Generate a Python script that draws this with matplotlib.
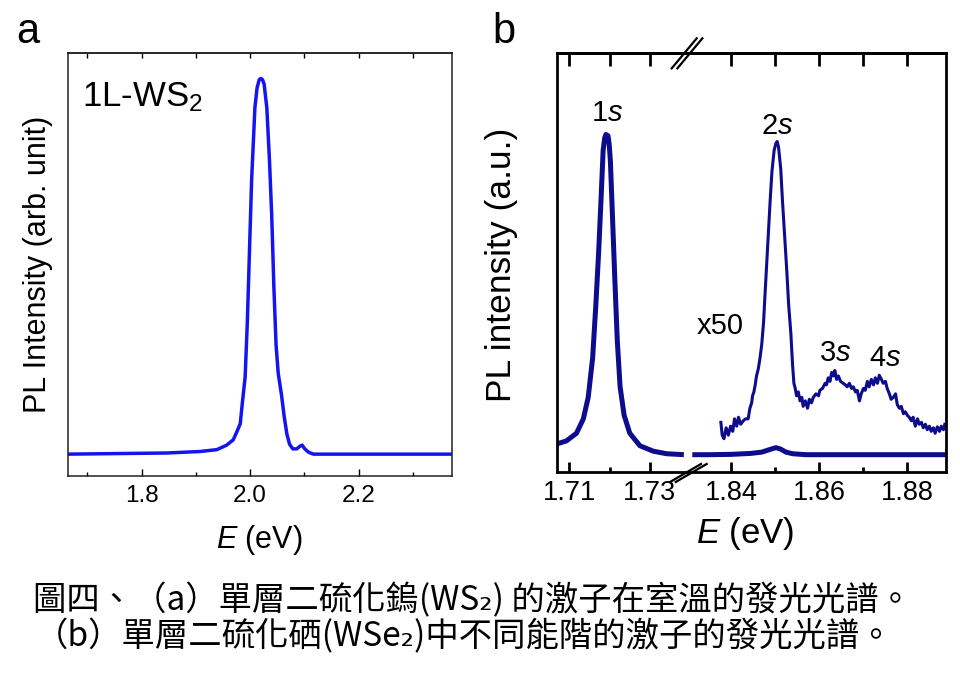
import matplotlib
matplotlib.use('Agg')
import matplotlib.pyplot as plt
from matplotlib.ticker import FixedLocator, NullFormatter

# --- panel a: 1L-WS2 PL spectrum (normalised) ---
ws2_e = [1.665, 1.785, 1.846, 1.908, 1.939, 1.957, 1.969, 1.975, 1.982, 1.986,
         1.991, 1.995, 1.999, 2.003, 2.009, 2.013, 2.017, 2.020, 2.023, 2.026,
         2.031, 2.036, 2.040, 2.044, 2.048, 2.052, 2.058, 2.063, 2.068, 2.073,
         2.079, 2.086, 2.092, 2.096, 2.101, 2.108, 2.117, 2.215, 2.372]
ws2_i = [0.0, 0.002, 0.003, 0.007, 0.012, 0.024, 0.038, 0.057, 0.081, 0.138,
         0.205, 0.349, 0.540, 0.731, 0.922, 0.975, 0.997, 1.0, 0.997, 0.985,
         0.922, 0.778, 0.635, 0.444, 0.291, 0.215, 0.158, 0.100, 0.053, 0.026,
         0.014, 0.014, 0.021, 0.024, 0.014, 0.005, 0.0, 0.0, 0.0]

# --- panel b: 1L-WSe2, main spectrum (low and high energy windows) ---
wse2_e_lo = [1.7070, 1.7093, 1.7118, 1.7135, 1.7147, 1.7158, 1.7166, 1.7173,
             1.7179, 1.7184, 1.7188, 1.7191, 1.7196, 1.7199, 1.7202, 1.7207,
             1.7213, 1.7219, 1.7226, 1.7236, 1.7250, 1.7275, 1.7308, 1.7341,
             1.7384]
wse2_i_lo = [0.034, 0.043, 0.067, 0.112, 0.179, 0.302, 0.469, 0.635,
             0.803, 0.950, 0.990, 1.0, 0.996, 0.970, 0.916, 0.749,
             0.547, 0.358, 0.212, 0.123, 0.067, 0.028, 0.011, 0.003,
             0.0]
wse2_e_hi = [1.8312, 1.8350, 1.8400, 1.8445, 1.8470, 1.8490, 1.8502, 1.8512,
             1.8525, 1.8540, 1.8570, 1.8700, 1.8888]
wse2_i_hi = [0.0, 0.0, 0.001, 0.004, 0.008, 0.017, 0.022, 0.018,
             0.008, 0.003, 0.0, 0.0, 0.0]

# x50 magnified trace
x50_e = [1.8377, 1.8380, 1.8384, 1.8389, 1.8394, 1.8399, 1.8404, 1.8408,
         1.8413, 1.8417, 1.8422, 1.8428, 1.8433, 1.8439, 1.8443, 1.8447,
         1.8449, 1.8452, 1.8455, 1.8458, 1.8462, 1.8466, 1.8470, 1.8474,
         1.8477, 1.8481, 1.8485, 1.8489, 1.8493, 1.8498, 1.8502, 1.8505,
         1.8508, 1.8513, 1.8517, 1.8522, 1.8527, 1.8531, 1.8536, 1.8540,
         1.8543, 1.8546, 1.8549, 1.8553, 1.8557, 1.8561, 1.8564, 1.8569,
         1.8574, 1.8578, 1.8583, 1.8587, 1.8593, 1.8599, 1.8602, 1.8608,
         1.8614, 1.8617, 1.8621, 1.8625, 1.8629, 1.8633, 1.8636, 1.8640,
         1.8644, 1.8649, 1.8655, 1.8660, 1.8664, 1.8669, 1.8674, 1.8678,
         1.8683, 1.8687, 1.8692, 1.8696, 1.8701, 1.8705, 1.8710, 1.8714,
         1.8719, 1.8724, 1.8728, 1.8733, 1.8737, 1.8742, 1.8746, 1.8751,
         1.8755, 1.8760, 1.8764, 1.8769, 1.8774, 1.8778, 1.8783, 1.8787,
         1.8792, 1.8796, 1.8801, 1.8805, 1.8810, 1.8814, 1.8819, 1.8824,
         1.8828, 1.8833, 1.8837, 1.8842, 1.8846, 1.8851, 1.8855, 1.8860,
         1.8864, 1.8869, 1.8874, 1.8878, 1.8883, 1.8886]
x50_i = [0.101, 0.061, 0.050, 0.084, 0.061, 0.089, 0.073, 0.112,
         0.089, 0.117, 0.095, 0.106, 0.112, 0.112, 0.145, 0.162,
         0.184, 0.196, 0.218, 0.246, 0.268, 0.302, 0.346, 0.413,
         0.492, 0.592, 0.693, 0.793, 0.883, 0.950, 0.972, 0.978,
         0.961, 0.894, 0.793, 0.682, 0.570, 0.469, 0.380, 0.279,
         0.223, 0.207, 0.184, 0.196, 0.168, 0.179, 0.151, 0.168,
         0.145, 0.173, 0.162, 0.179, 0.190, 0.184, 0.201, 0.207,
         0.223, 0.218, 0.240, 0.229, 0.257, 0.246, 0.263, 0.235,
         0.246, 0.229, 0.223, 0.218, 0.212, 0.223, 0.207, 0.212,
         0.196, 0.201, 0.168, 0.190, 0.207, 0.201, 0.229, 0.212,
         0.235, 0.218, 0.240, 0.223, 0.248, 0.235, 0.223, 0.229,
         0.207, 0.190, 0.173, 0.179, 0.190, 0.156, 0.145, 0.151,
         0.128, 0.134, 0.123, 0.117, 0.106, 0.117, 0.089, 0.112,
         0.095, 0.101, 0.084, 0.095, 0.078, 0.089, 0.073, 0.084,
         0.067, 0.087, 0.073, 0.089, 0.078, 0.095]

peak_labels = ['1$s$', '2$s$', '3$s$', '4$s$']
peak_label_e = [1.7193, 1.8504, 1.8636, 1.8750]
peak_label_i = [1.067, 1.028, 0.318, 0.302]

caption_1 = '圖四、（a）單層二硫化鎢(WS₂) 的激子在室溫的發光光譜。'
caption_2 = '（b）單層二硫化硒(WSe₂)中不同能階的激子的發光光譜。'

plt.rcParams['font.family'] = ['Liberation Sans', 'DejaVu Sans']
plt.rcParams['mathtext.fontset'] = 'custom'
plt.rcParams['mathtext.rm'] = 'Liberation Sans'
plt.rcParams['mathtext.it'] = 'Liberation Sans:italic'

fig = plt.figure(figsize=(9.6, 6.76), dpi=100)

# ---------------- panel a ----------------
ax_a = fig.add_axes([0.0711, 0.2963, 0.3994, 0.6251])
ax_a.plot(ws2_e, ws2_i, color='#1414f0', lw=2.5)
ax_a.set_xlim(1.665, 2.3717)
ax_a.set_ylim(-0.0574, 1.0675)
ax_a.set_yticks([])
ax_a.xaxis.set_major_locator(FixedLocator([1.8, 2.0, 2.2]))
ax_a.xaxis.set_minor_locator(FixedLocator([1.7, 1.9, 2.1, 2.3]))
ax_a.set_xticklabels(['1.8', '2.0', '2.2'])
ax_a.tick_params(axis='x', which='major', direction='in', length=5, width=1,
                 labelsize=17.5, pad=7)
ax_a.tick_params(axis='x', which='minor', direction='in', length=3, width=1)
for sp in ax_a.spines.values():
    sp.set_linewidth(1.1)
    sp.set_color('#222222')
top_a = ax_a.secondary_xaxis('top')
top_a.xaxis.set_major_locator(FixedLocator([1.7, 1.8, 1.9, 2.0, 2.1, 2.2, 2.3]))
top_a.xaxis.set_major_formatter(NullFormatter())
top_a.tick_params(direction='in', length=3.5, width=1)
top_a.spines['top'].set_linewidth(1.1)
top_a.spines['top'].set_color('#222222')
ax_a.text(0.036, 0.896, '1L-WS$_2$', transform=ax_a.transAxes, fontsize=25,
          ha='left', va='center')
fig.text(0.0396, 0.609, 'PL Intensity (arb. unit)', rotation=90, fontsize=22,
         ha='center', va='center')
fig.text(0.270, 0.201, '$E$ (eV)', fontsize=22, ha='center', va='center')
fig.text(0.017, 0.953, 'a', fontsize=30, ha='left', va='center')

# ---------------- panel b (broken x axis) ----------------
ax_lo = fig.add_axes([0.5799, 0.3018, 0.1371, 0.6196])
ax_hi = fig.add_axes([0.7170, 0.3018, 0.2681, 0.6196])
navy = '#0c0c8c'
ax_lo.plot(wse2_e_lo, wse2_i_lo, color=navy, lw=3.6, solid_capstyle='butt')
ax_hi.plot(wse2_e_hi, wse2_i_hi, color=navy, lw=3.6, solid_capstyle='butt')
ax_hi.plot(x50_e, x50_i, color=navy, lw=2.2)
ax_lo.set_xlim(1.7069, 1.7395)
ax_hi.set_xlim(1.8303, 1.8888)
for ax in (ax_lo, ax_hi):
    ax.set_ylim(-0.054, 1.254)
    ax.set_yticks([])
    for sp in ax.spines.values():
        sp.set_linewidth(2.0)
ax_lo.spines['right'].set_visible(False)
ax_hi.spines['left'].set_visible(False)

ax_lo.xaxis.set_major_locator(FixedLocator([1.71, 1.73]))
ax_lo.xaxis.set_minor_locator(FixedLocator([1.72]))
ax_lo.set_xticklabels(['1.71', '1.73'])
ax_hi.xaxis.set_major_locator(FixedLocator([1.84, 1.86, 1.88]))
ax_hi.xaxis.set_minor_locator(FixedLocator([1.85, 1.87]))
ax_hi.set_xticklabels(['1.84', '1.86', '1.88'])
for ax, top_ticks in ((ax_lo, [1.71, 1.72, 1.73]),
                      (ax_hi, [1.84, 1.85, 1.86, 1.87, 1.88])):
    ax.tick_params(axis='x', which='major', direction='in', length=7, width=2,
                   labelsize=19.5, pad=6)
    ax.tick_params(axis='x', which='minor', direction='in', length=3.5, width=2)
    top = ax.secondary_xaxis('top')
    top.xaxis.set_major_locator(FixedLocator(top_ticks))
    top.xaxis.set_major_formatter(NullFormatter())
    top.tick_params(direction='in', length=9, width=2)
    top.spines['top'].set_linewidth(2.0)

# break marks //
for dx in (0.0, 0.022):
    ax_hi.plot([-0.0645 + dx, 0.0326 + dx], [0.9637, 1.0353], color='black',
               lw=1.6, transform=ax_hi.transAxes, clip_on=False)
    ax_hi.plot([-0.0711 + dx, 0.0493 + dx], [-0.0239, 0.0191], color='black',
               lw=1.6, transform=ax_hi.transAxes, clip_on=False)

ax_lo.text(peak_label_e[0], peak_label_i[0], peak_labels[0], fontsize=21,
           ha='center', va='center')
for lab, e, i in zip(peak_labels[1:], peak_label_e[1:], peak_label_i[1:]):
    ax_hi.text(e, i, lab, fontsize=21, ha='center', va='center')
ax_hi.text(1.8375, 0.402, 'x50', fontsize=21, ha='center', va='center')

fig.text(0.5226, 0.609, 'PL intensity (a.u.)', rotation=90, fontsize=25.5,
         ha='center', va='center')
fig.text(0.776, 0.2115, '$E$ (eV)', fontsize=25, ha='center', va='center')
fig.text(0.513, 0.953, 'b', fontsize=30, ha='left', va='center')

# ---------------- caption ----------------
cjk = ['Noto Sans CJK TC', 'DejaVu Sans']
fig.text(0.492, 1 - 601 / 676, caption_1, family=cjk, fontsize=24,
         weight='medium', ha='center', va='center')
fig.text(0.483, 1 - 637 / 676, caption_2, family=cjk, fontsize=24,
         weight='medium', ha='center', va='center')

fig.savefig('out.png', dpi=100)
